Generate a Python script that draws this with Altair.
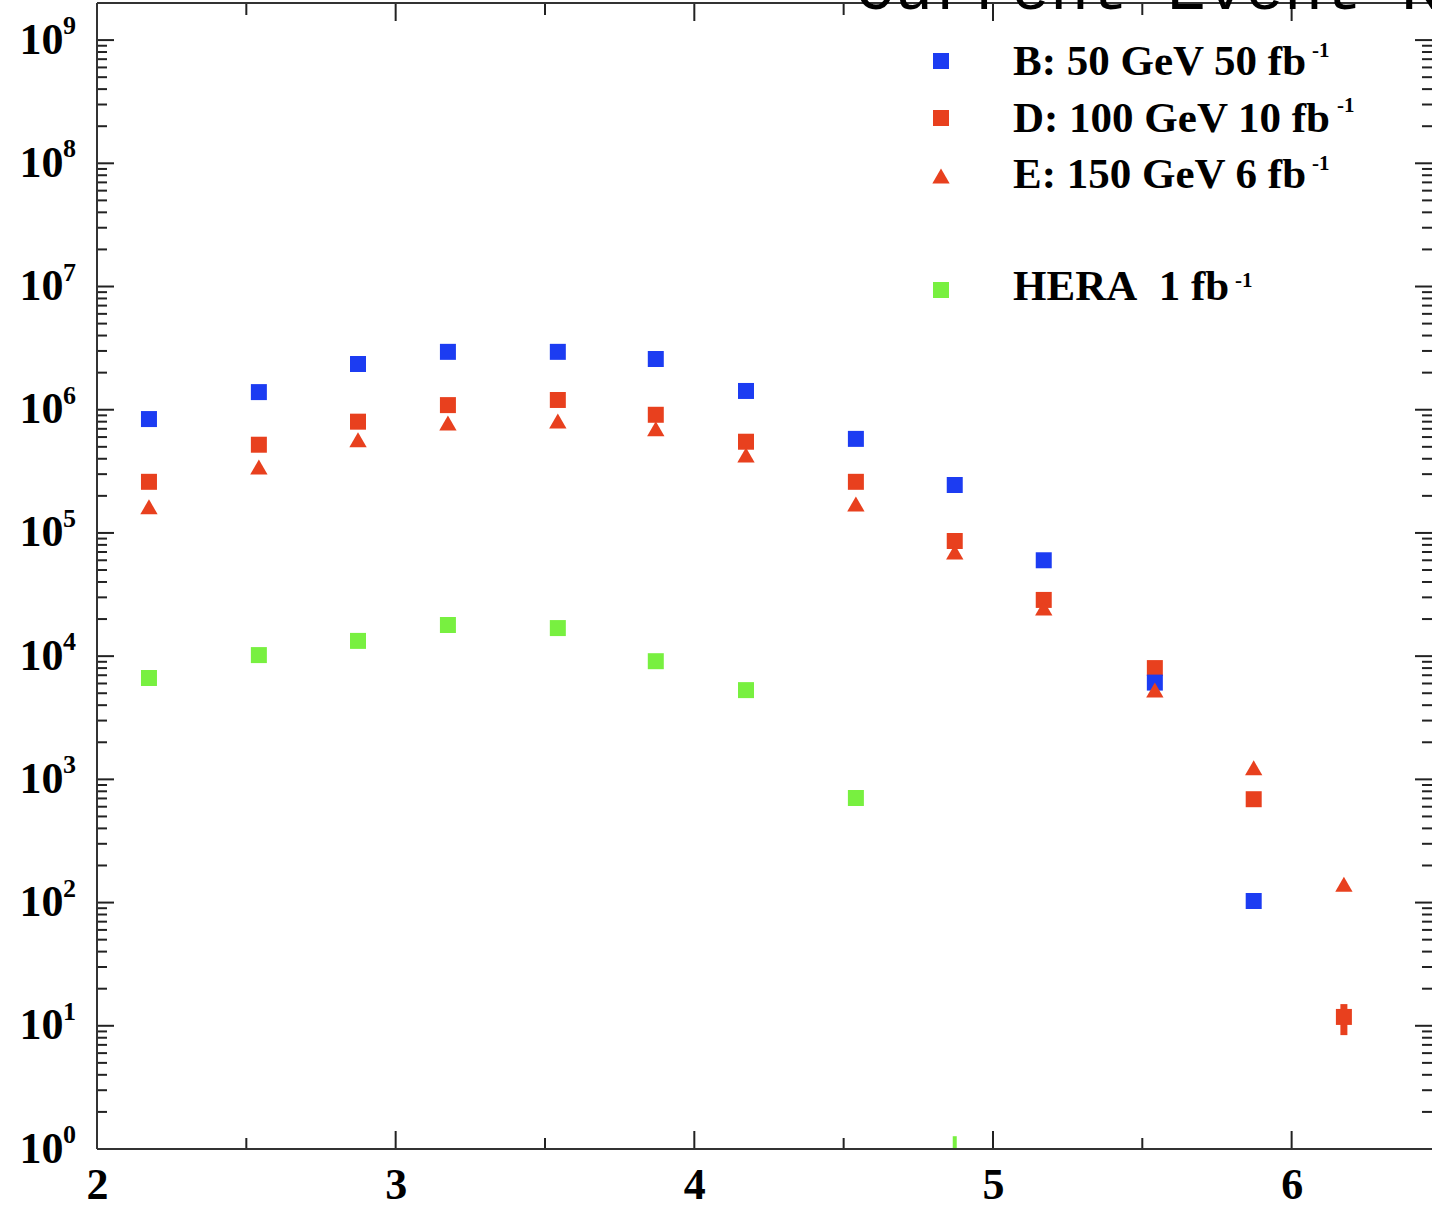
import altair as alt
import pandas as pd

# ---------------- data ----------------
x_bins = [2.174, 2.542, 2.874, 3.175, 3.543, 3.871, 4.173, 4.541, 4.872, 5.170, 5.542, 5.873, 6.175]
b_50gev = [8.4e5, 1.39e6, 2.35e6, 2.95e6, 2.95e6, 2.58e6, 1.42e6, 5.8e5, 2.45e5, 6.0e4, 6.1e3, 103]
d_100gev = [2.6e5, 5.2e5, 8.0e5, 1.09e6, 1.2e6, 9.1e5, 5.5e5, 2.6e5, 8.6e4, 2.86e4, 8.0e3, 690, 11.8]
e_150gev = [1.63e5, 3.43e5, 5.7e5, 7.8e5, 8.1e5, 7.0e5, 4.3e5, 1.72e5, 7.0e4, 2.46e4, 5.3e3, 1.24e3, 141]
hera = [6.65e3, 1.02e4, 1.33e4, 1.79e4, 1.69e4, 9.1e3, 5.3e3, 706]
d_err_x = [6.175]
d_err_lo = [8.4]
d_err_hi = [15.0]
hera_low_x = [4.872]
hera_low_lo = [1.0]
hera_low_hi = [1.27]

x_major = [2, 3, 4, 5, 6]
x_minor = [2.5, 3.5, 4.5, 5.5]
y_major = [10.0 ** k for k in range(10)]
y_exp = ["0", "1", "2", "3", "4", "5", "6", "7", "8", "9"]
y_minor = [m * 10.0 ** k for k in range(9) for m in range(2, 10)]

legend_labels = ["B: 50 GeV 50 fb", "D: 100 GeV 10 fb", "E: 150 GeV 6 fb", "HERA\u00a0 1 fb"]
legend_sup = "-1"
title_text = "Current Event Rates"

BLUE = "#1c3cf2"
RED = "#e8401e"
GREEN = "#78f040"
INK = "#222222"
W, H = 1335, 1146
FONT = "Liberation Serif"

xs = alt.Scale(domain=[2, 6.47], nice=False, zero=False)
ys = alt.Scale(type="log", domain=[1, 2.0e9], nice=False)


def X(axis=alt.Undefined):
    return alt.X("x:Q", scale=xs, axis=axis, title=None)


def Y(axis=alt.Undefined):
    return alt.Y("y:Q", scale=ys, axis=axis, title=None)


x_axis = alt.Axis(values=x_major, format="d", ticks=False, tickSize=0, domain=False, grid=False,
                  labelFont=FONT, labelFontWeight="bold", labelFontSize=44, labelColor="black",
                  labelPadding=14, labelFlush=False, labelOverlap=False, labelBaseline="top", title=None)
y_axis = alt.Axis(values=y_major, labelExpr="'10'", ticks=False, tickSize=0, domain=False, grid=False,
                  labelFont=FONT, labelFontWeight="bold", labelFontSize=44, labelColor="black",
                  labelPadding=34, labelFlush=False, labelOverlap=False, labelBaseline="middle", title=None)

df_b = pd.DataFrame({"x": x_bins[:len(b_50gev)], "y": b_50gev})
df_d = pd.DataFrame({"x": x_bins[:len(d_100gev)], "y": d_100gev})
df_e = pd.DataFrame({"x": x_bins[:len(e_150gev)], "y": e_150gev})
df_h = pd.DataFrame({"x": x_bins[:len(hera)], "y": hera})
df_err = pd.DataFrame({"x": d_err_x, "y": d_err_lo, "y2": d_err_hi})
df_hlow = pd.DataFrame({"x": hera_low_x, "y": hera_low_lo, "y2": hera_low_hi})
one = pd.DataFrame({"a": [0]})

# axes carrier (invisible points)
base = alt.Chart(pd.DataFrame({"x": [2, 6.47], "y": [1, 2.0e9]})).mark_point(opacity=0).encode(
    x=X(x_axis), y=Y(y_axis))

# exponents of the y labels
df_exp = pd.DataFrame({"y": y_major, "t": y_exp})
exps = alt.Chart(df_exp).mark_text(align="left", baseline="middle", font=FONT, fontWeight="bold",
                                   fontSize=26, color="black", dy=-14).encode(
    x=alt.value(-34), y=Y(), text="t:N")

# frame
frame_left = alt.Chart(one).mark_rule(color="#333", strokeWidth=2).encode(
    x=alt.value(0), y=alt.value(0), y2=alt.value(H))
frame_bottom = alt.Chart(one).mark_rule(color="#333", strokeWidth=2).encode(
    x=alt.value(0), x2=alt.value(W + 2), y=alt.value(H))
frame_top = alt.Chart(one).mark_rule(color="#333", strokeWidth=2).encode(
    x=alt.value(0), x2=alt.value(W + 2), y=alt.value(0))

# tick marks (inside)
dxM = pd.DataFrame({"x": x_major})
dxm = pd.DataFrame({"x": x_minor})
dyM = pd.DataFrame({"y": y_major})
dym = pd.DataFrame({"y": y_minor})
tk = dict(color=INK, strokeWidth=2)
ticks = [
    alt.Chart(dxM).mark_rule(**tk).encode(x=X(), y=alt.value(H), y2=alt.value(H - 18)),
    alt.Chart(dxm).mark_rule(**tk).encode(x=X(), y=alt.value(H), y2=alt.value(H - 11)),
    alt.Chart(dxM).mark_rule(**tk).encode(x=X(), y=alt.value(0), y2=alt.value(18)),
    alt.Chart(dxm).mark_rule(**tk).encode(x=X(), y=alt.value(0), y2=alt.value(12)),
    alt.Chart(dyM).mark_rule(**tk).encode(y=Y(), x=alt.value(0), x2=alt.value(17)),
    alt.Chart(dym).mark_rule(**tk).encode(y=Y(), x=alt.value(0), x2=alt.value(10)),
    alt.Chart(dyM).mark_rule(**tk).encode(y=Y(), x=alt.value(W), x2=alt.value(W - 17)),
    alt.Chart(dym).mark_rule(**tk).encode(y=Y(), x=alt.value(W), x2=alt.value(W - 10)),
]

# data marks
sq = dict(shape="square", size=256, filled=True, opacity=1)
tri = dict(shape="triangle-up", size=300, filled=True, opacity=1)
hera_pts = alt.Chart(df_h).mark_point(color=GREEN, **sq).encode(x=X(), y=Y())
hera_low = alt.Chart(df_hlow).mark_rule(color=GREEN, strokeWidth=4).encode(x=X(), y=Y(), y2="y2:Q")
err = alt.Chart(df_err).mark_rule(color=RED, strokeWidth=7).encode(x=X(), y=Y(), y2="y2:Q")
d_pts = alt.Chart(df_d).mark_point(color=RED, **sq).encode(x=X(), y=Y())
b_pts = alt.Chart(df_b).mark_point(color=BLUE, **sq).encode(x=X(), y=Y())
e_pts = alt.Chart(df_e).mark_point(color=RED, **tri).encode(x=X(), y=Y())

# legend (pixel layout inside the plot area)
leg_sym_y = [58, 115, 173, 287]
leg_base_y = [72, 129, 185, 297]
leg_sup_x = [1215, 1240, 1215, 1138]
leg_sup_y = [54, 109, 167, 284]
leg_sym = [
    alt.Chart(one).mark_point(color=BLUE, **sq).encode(x=alt.value(844), y=alt.value(leg_sym_y[0])),
    alt.Chart(one).mark_point(color=RED, **sq).encode(x=alt.value(844), y=alt.value(leg_sym_y[1])),
    alt.Chart(one).mark_point(color=RED, **tri).encode(x=alt.value(844), y=alt.value(leg_sym_y[2])),
    alt.Chart(one).mark_point(color=GREEN, **sq).encode(x=alt.value(844), y=alt.value(leg_sym_y[3])),
]
leg_txt = [
    alt.Chart(one).mark_text(text=lab, align="left", baseline="alphabetic", font=FONT,
                             fontWeight="bold", fontSize=43, color="black").encode(
        x=alt.value(916), y=alt.value(by))
    for lab, by in zip(legend_labels, leg_base_y)
]
leg_sups = [
    alt.Chart(one).mark_text(text=legend_sup, align="left", baseline="alphabetic", font=FONT,
                             fontWeight="bold", fontSize=21, color="black").encode(
        x=alt.value(sx), y=alt.value(sy))
    for sx, sy in zip(leg_sup_x, leg_sup_y)
]

title = alt.Chart(one).mark_text(text=title_text, align="left", baseline="alphabetic",
                                 font="Liberation Mono", fontSize=65, color="black").encode(
    x=alt.value(758), y=alt.value(6))

chart = alt.layer(
    base, *ticks, hera_low, hera_pts, err, d_pts, b_pts, e_pts, *leg_sym, *leg_txt, *leg_sups, exps,
    frame_left, frame_bottom, frame_top, title
).properties(
    width=W, height=H,
    autosize=alt.AutoSizeParams(type="none"),
    padding={"left": 97, "top": 3, "right": 0, "bottom": 52},
    background="white",
).configure_view(stroke=None)

chart.save("out.html", embed_options={"renderer": "svg", "actions": False})
